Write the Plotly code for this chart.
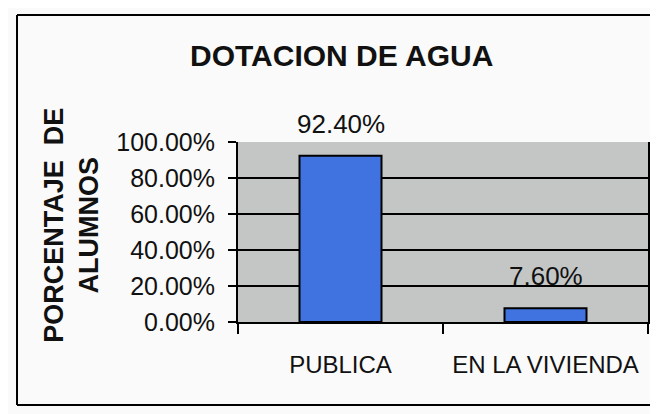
import plotly.graph_objects as go

categories = ["PUBLICA", "EN LA VIVIENDA"]
values = [0.924, 0.076]
value_labels = ["92.40%", "7.60%"]
tick_vals = [0, 0.2, 0.4, 0.6, 0.8, 1.0]

title_text = "DOTACION DE AGUA"
y_title_text = "PORCENTAJE  DE<br>ALUMNOS"

FONT = "Liberation Sans, Arial, sans-serif"

fig = go.Figure()

fig.add_trace(go.Bar(
    x=categories,
    y=values,
    marker=dict(color="#4173e0", line=dict(color="black", width=2)),
    width=0.4,
    hoverinfo="skip",
))

# value labels above bars
for cat, val, lab in zip(categories, values, value_labels):
    fig.add_annotation(
        x=cat, y=val, text=lab, showarrow=False,
        yanchor="bottom", yshift=15,
        font=dict(family=FONT, size=26, color="#111"),
    )

# y-axis title
fig.add_annotation(
    xref="paper", yref="paper", x=-0.405, y=0.54,
    xanchor="center", yanchor="middle",
    text=y_title_text, textangle=-90, showarrow=False,
    font=dict(family=FONT, size=27, color="#111", weight="bold"),
)

# chart title
fig.add_annotation(
    xref="paper", yref="paper", x=0.252, y=1.48,
    xanchor="center", yanchor="middle",
    text=title_text, showarrow=False,
    font=dict(family=FONT, size=30, color="#111", weight="bold"),
)

# outer frame
for x0, y0, x1, y1 in [(-0.539, 1.706, 1.05, 1.706), (-0.539, 1.706, -0.539, -0.461),
                       (-0.539, -0.461, 1.05, -0.461)]:
    fig.add_shape(type="line", xref="paper", yref="paper",
                  x0=x0, y0=y0, x1=x1, y1=y1,
                  line=dict(color="black", width=2))

fig.update_layout(
    width=650, height=406,
    margin=dict(l=230, r=10, t=134, b=92),
    plot_bgcolor="#c4c6c6",
    paper_bgcolor="#fafafa",
    showlegend=False,
    xaxis=dict(
        automargin=False, tickangle=0,
        showline=True, linecolor="black", linewidth=2,
        ticks="outside", tickson="boundaries", ticklen=10,
        tickcolor="black", tickwidth=2, ticklabelstandoff=20,
        tickfont=dict(family=FONT, size=24, color="#111"),
        showgrid=False,
    ),
    yaxis=dict(
        automargin=False,
        range=[0, 1], tickvals=tick_vals, tickformat=".2%",
        showline=True, linecolor="black", linewidth=2, mirror=True,
        ticks="outside", ticklen=8, tickcolor="black", tickwidth=2,
        ticklabelstandoff=8,
        tickfont=dict(family=FONT, size=25, color="#111"),
        showgrid=True, gridcolor="black", gridwidth=2,
        zeroline=False,
    ),
)

fig.write_html("out.html")
